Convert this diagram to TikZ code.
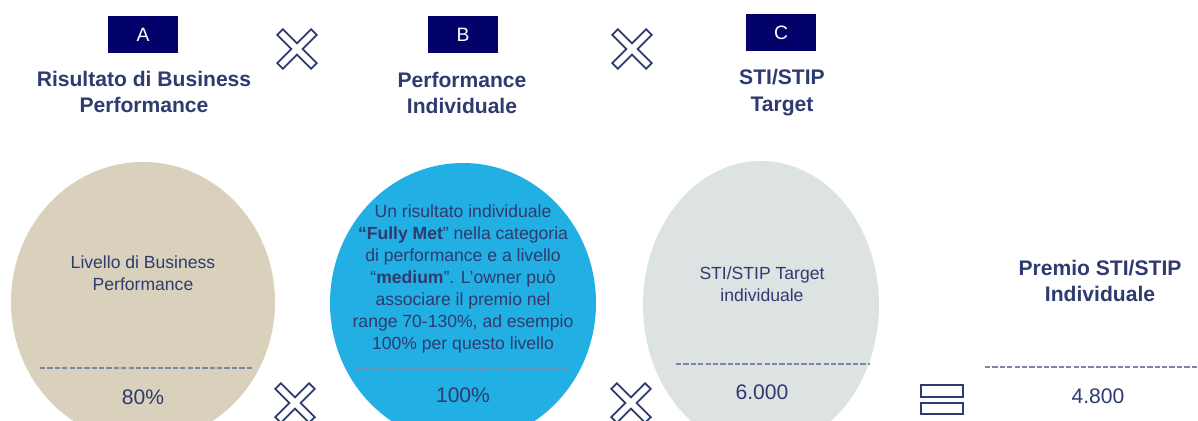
\documentclass[tikz,border=0pt]{standalone}
\usepackage{fontspec}
\setmainfont{Liberation Sans}
\usepackage{tikz}
\usetikzlibrary{positioning}
\definecolor{navy}{HTML}{02026A}
\definecolor{ink}{HTML}{2E3B6E}
\definecolor{sand}{HTML}{D9D1BC}
\definecolor{sky}{HTML}{22AFE4}
\definecolor{mist}{HTML}{DDE3E3}
\definecolor{dashgray}{HTML}{7D86A3}
\tikzset{%
	letterbox/.style = {fill=navy, text=white, minimum width=1.4cm, minimum height=0.74cm, inner sep=0pt, font=\fontsize{11}{13}\selectfont},
	title/.style     = {text=ink, align=center, font=\bfseries\fontsize{12}{15.3}\selectfont},
	body/.style      = {text=ink, align=center, font=\fontsize{10}{12.5}\selectfont},
	value/.style     = {text=ink, font=\fontsize{12}{14}\selectfont},
	sep/.style       = {dashgray, line width=1pt, dash pattern=on 3pt off 1.2pt},
	icon/.style      = {draw=ink, line width=1pt, fill=white},
	timessign/.pic   = {\draw[icon, rotate=45] (4,4) -- (4,24) -- (-4,24) -- (-4,4) -- (-24,4) -- (-24,-4) -- (-4,-4) -- (-4,-24) -- (4,-24) -- (4,-4) -- (24,-4) -- (24,4) -- cycle;},
}

\begin{document}
\begin{tikzpicture}[x=0.02cm, y=-0.02cm]
	\useasboundingbox (0,0) rectangle (1198,421);
	\begin{scope}
		\clip (0,0) rectangle (1198,421);
		\fill[sand] (143,302) ellipse [x radius=132, y radius=140];  % A
		\fill[sky] (463,303) ellipse [x radius=133, y radius=140];  % B
		\fill[mist] (761,305) ellipse [x radius=118, y radius=144];  % C
	\end{scope}

	% factor headers
	\node[letterbox] (boxA) at (143,35) {A};
	\node[letterbox] (boxB) at (463,35) {B};
	\node[letterbox] (boxC) at (781,33) {C};
	\node[title] (titA) at (144,92) {Risultato di Business\\Performance};
	\node[title] (titB) at (462,93) {Performance\\Individuale};
	\node[title] (titC) at (782,93) {STI/STIP\\Target};
	\node[title] (titR) at (1100,281) {Premio STI/STIP\\Individuale};

	% circle contents
	\node[body] (txtA) at (143,273) {Livello di Business\\Performance};
	\node[body] (txtB) at (463,279) {Un risultato individuale\\
		\textbf{“Fully Met}” nella categoria\\
		di performance e a livello\\
		“\textbf{medium}”. L’owner può\\
		associare il premio nel\\
		range 70-130\%, ad esempio\\
		100\% per questo livello};
	\node[body] (txtC) at (762,284) {STI/STIP Target\\individuale};

	\draw[sep] (40,368) -- (252,368);
	\draw[sep] (355,368) -- (570,368);
	\draw[sep] (676,364) -- (870,364);
	\draw[sep] (985,367) -- (1198,367);

	\node[value] (valA) at (143,397) {80\%};
	\node[value] (valB) at (463,395) {100\%};
	\node[value] (valC) at (762,392) {6.000};
	\node[value] (valR) at (1098,396) {4.800};

	% operators
	\pic at (297,49) {timessign};
	\pic at (632,49) {timessign};
	\pic at (295,403) {timessign};
	\pic at (631,403) {timessign};
	\draw[icon] (921,385) rectangle (963,397);
	\draw[icon] (921,403) rectangle (963,414);
\end{tikzpicture}
\end{document}
